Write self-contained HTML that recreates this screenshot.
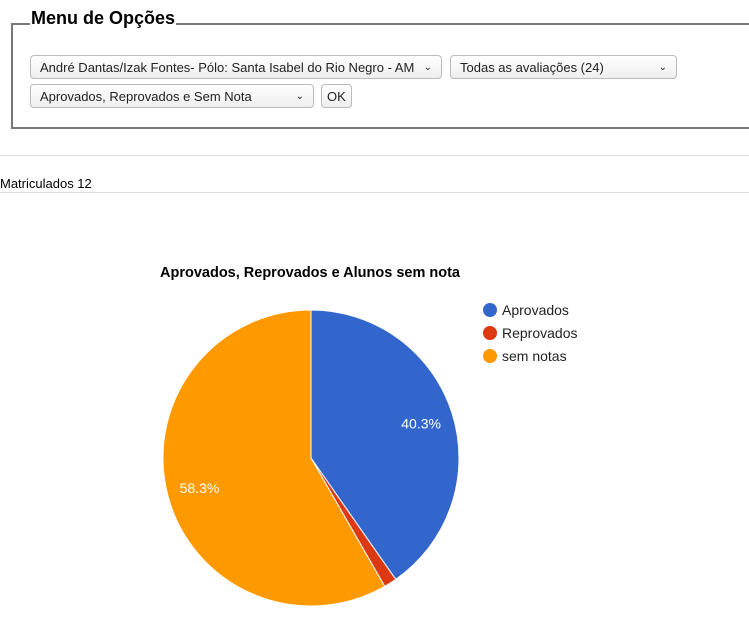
<!DOCTYPE html>
<html><head><meta charset="utf-8"><style>
body{margin:0;width:749px;height:644px;overflow:hidden;background:#fff;font-family:"Liberation Sans",sans-serif;position:relative}
.abs{position:absolute}
.fs{left:11px;top:23px;width:760px;height:102px;border:2px solid #777;box-sizing:content-box}
.lg{left:30px;top:7px;font-size:18px;font-weight:bold;background:#fff;padding:0 1px;line-height:22px}
.sel{height:24px;border:1px solid #bbb;border-radius:4px;background:linear-gradient(#fff,#eee);font-size:13px;line-height:24px;padding-left:9px;box-sizing:border-box;color:#222}
.sel .ar{position:absolute;right:9px;top:0;font-size:10px}
.hr{left:0;width:749px;height:1px;background:#ddd}
</style></head><body>
<div class="abs fs"></div>
<div class="abs lg">Menu de Opções</div>
<div class="abs sel" style="left:30px;top:55px;width:412px">André Dantas/Izak Fontes- Pólo: Santa Isabel do Rio Negro - AM<span class="ar">&#8964;</span></div>
<div class="abs sel" style="left:450px;top:55px;width:227px">Todas as avaliações (24)<span class="ar">&#8964;</span></div>
<div class="abs sel" style="left:30px;top:84px;width:284px">Aprovados, Reprovados e Sem Nota<span class="ar">&#8964;</span></div>
<div class="abs sel" style="left:321px;top:84px;width:31px;padding-left:5px">OK</div>
<div class="abs hr" style="top:155px"></div>
<div class="abs" style="left:0;top:176px;font-size:13px">Matriculados 12</div>
<div class="abs hr" style="top:192px"></div>
<svg class="abs" style="left:0;top:0" width="749" height="644" id="chart">
<text x="310" y="277" text-anchor="middle" font-size="14.5" font-weight="bold" font-family="Liberation Sans">Aprovados, Reprovados e Alunos sem nota</text>
</svg>
<script>
const categories=["Aprovados","Reprovados","sem notas"];
const values=[40.3,1.4,58.3];
const colors=["#3366cc","#dc3912","#ff9900"];
const svg=document.getElementById('chart');
const NS="http://www.w3.org/2000/svg";
const cx=311,cy=458,r=148;
const total=values.reduce((a,b)=>a+b,0);
let a0=0;
function pt(a,rr){return [cx+rr*Math.sin(a),cy-rr*Math.cos(a)];}
values.forEach((v,i)=>{
  const a1=a0+v/total*2*Math.PI;
  const p0=pt(a0,r),p1=pt(a1,r);
  const p=document.createElementNS(NS,'path');
  p.setAttribute('d',`M${cx},${cy}L${p0[0]},${p0[1]}A${r},${r} 0 ${a1-a0>Math.PI?1:0} 1 ${p1[0]},${p1[1]}Z`);
  p.setAttribute('fill',colors[i]);p.setAttribute('stroke','#fff');p.setAttribute('stroke-width','1');
  
  
  svg.appendChild(p);
  if(v/total>0.05){
    const m=pt((a0+a1)/2,r*0.78);
    const t=document.createElementNS(NS,'text');
    t.setAttribute('x',m[0]);t.setAttribute('y',m[1]+5);t.setAttribute('text-anchor','middle');
    t.setAttribute('fill','#fff');t.setAttribute('font-size','14');t.setAttribute('font-family','Liberation Sans');
    t.textContent=v.toFixed(1)+'%';
    
    
    svg.appendChild(t);
  }
  a0=a1;
});
categories.forEach((c,i)=>{
  const y=310+i*23;
  const ci=document.createElementNS(NS,'circle');
  ci.setAttribute('cx',490);ci.setAttribute('cy',y);ci.setAttribute('r',7);ci.setAttribute('fill',colors[i]);
  
  
  svg.appendChild(ci);
  const t=document.createElementNS(NS,'text');
  t.setAttribute('x',502);t.setAttribute('y',y+5);t.setAttribute('font-size','14');t.setAttribute('fill','#222');t.setAttribute('font-family','Liberation Sans');
  t.textContent=c;
  
  
  svg.appendChild(t);
});
</script>
</body></html>
